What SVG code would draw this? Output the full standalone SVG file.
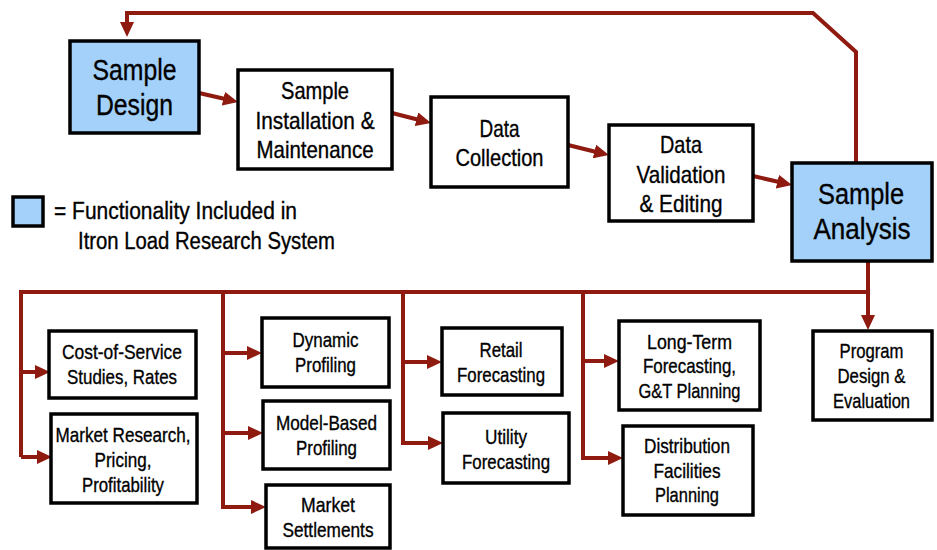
<svg xmlns="http://www.w3.org/2000/svg" width="937" height="550" viewBox="0 0 937 550">
<style>
.box{fill:#fff;stroke:#000;stroke-width:3.5}
.blue{fill:#a3d1f9}
text{font-family:"Liberation Sans",Arial,sans-serif;fill:#000;stroke:#000;stroke-width:0.35}
.t{text-anchor:middle}
.big{font-size:30px}
.med{font-size:24px}
.sm{font-size:21px}
.leg{font-size:23px}
.c{fill:none;stroke:#8f1a0f;stroke-width:4;stroke-linejoin:miter}
</style>
<defs>
<marker id="ah" markerUnits="userSpaceOnUse" markerWidth="15" markerHeight="14" viewBox="0 0 15 14" refX="3" refY="7" orient="auto">
<path d="M0,0 L15,7 L0,14 z" fill="#8f1a0f"/>
</marker>
</defs>
<g id="connectors">
<path class="c" d="M856,163 V52 L813,13 H127 V25" marker-end="url(#ah)"/>
<path class="c" d="M199,93 L226.3,99.3" marker-end="url(#ah)"/>
<path class="c" d="M392,113 L419.4,120" marker-end="url(#ah)"/>
<path class="c" d="M568,145 L597.3,152.2" marker-end="url(#ah)"/>
<path class="c" d="M753,176 L780.3,182.3" marker-end="url(#ah)"/>
<path class="c" d="M868,261 V318" marker-end="url(#ah)"/>
<path class="c" d="M21,457 V292 H868"/>
<path class="c" d="M21,372 H38" marker-end="url(#ah)"/>
<path class="c" d="M21,457 H40" marker-end="url(#ah)"/>
<path class="c" d="M223,292 V507"/>
<path class="c" d="M223,353 H250" marker-end="url(#ah)"/>
<path class="c" d="M223,433 H251" marker-end="url(#ah)"/>
<path class="c" d="M221,507 H254" marker-end="url(#ah)"/>
<path class="c" d="M403,292 V443"/>
<path class="c" d="M403,362 H430" marker-end="url(#ah)"/>
<path class="c" d="M401,443 H431" marker-end="url(#ah)"/>
<path class="c" d="M583,292 V458"/>
<path class="c" d="M583,361 H607" marker-end="url(#ah)"/>
<path class="c" d="M581,458 H611" marker-end="url(#ah)"/>
</g>
<g id="sample-design">
<rect class="box blue" x="70" y="41" width="129" height="92"/>
<text class="t big" x="134.5" y="80" textLength="84" lengthAdjust="spacingAndGlyphs">Sample</text>
<text class="t big" x="134.5" y="115" textLength="77" lengthAdjust="spacingAndGlyphs">Design</text>
</g>
<g id="sample-installation">
<rect class="box" x="238" y="70" width="154" height="99"/>
<text class="t med" x="315" y="99" textLength="68" lengthAdjust="spacingAndGlyphs">Sample</text>
<text class="t med" x="315" y="129" textLength="119" lengthAdjust="spacingAndGlyphs">Installation &amp;</text>
<text class="t med" x="315" y="158" textLength="117" lengthAdjust="spacingAndGlyphs">Maintenance</text>
</g>
<g id="data-collection">
<rect class="box" x="431" y="97" width="137" height="90"/>
<text class="t med" x="499.5" y="137" textLength="40" lengthAdjust="spacingAndGlyphs">Data</text>
<text class="t med" x="499.5" y="166" textLength="88" lengthAdjust="spacingAndGlyphs">Collection</text>
</g>
<g id="data-validation">
<rect class="box" x="609" y="125" width="144" height="96"/>
<text class="t med" x="681" y="153" textLength="42" lengthAdjust="spacingAndGlyphs">Data</text>
<text class="t med" x="681" y="183" textLength="89" lengthAdjust="spacingAndGlyphs">Validation</text>
<text class="t med" x="681" y="212" textLength="83" lengthAdjust="spacingAndGlyphs">&amp; Editing</text>
</g>
<g id="sample-analysis">
<rect class="box blue" x="792" y="163" width="140" height="98"/>
<text class="t big" x="861" y="204" textLength="86" lengthAdjust="spacingAndGlyphs">Sample</text>
<text class="t big" x="862" y="239" textLength="97" lengthAdjust="spacingAndGlyphs">Analysis</text>
</g>
<g id="legend">
<rect class="box blue" x="13" y="197" width="30" height="29"/>
<text class="leg" x="54" y="219" textLength="243" lengthAdjust="spacingAndGlyphs">= Functionality Included in</text>
<text class="leg" x="78" y="249" textLength="257" lengthAdjust="spacingAndGlyphs">Itron Load Research System</text>
</g>
<g id="cost-of-service">
<rect class="box" x="49" y="331" width="147" height="67"/>
<text class="t sm" x="122" y="359" textLength="120" lengthAdjust="spacingAndGlyphs">Cost-of-Service</text>
<text class="t sm" x="122" y="384" textLength="110" lengthAdjust="spacingAndGlyphs">Studies, Rates</text>
</g>
<g id="market-research">
<rect class="box" x="51" y="414" width="146" height="89"/>
<text class="t sm" x="123" y="442" textLength="135" lengthAdjust="spacingAndGlyphs">Market Research,</text>
<text class="t sm" x="123" y="467" textLength="57" lengthAdjust="spacingAndGlyphs">Pricing,</text>
<text class="t sm" x="123" y="492" textLength="82" lengthAdjust="spacingAndGlyphs">Profitability</text>
</g>
<g id="dynamic-profiling">
<rect class="box" x="262" y="318" width="127" height="69"/>
<text class="t sm" x="325.5" y="347" textLength="66" lengthAdjust="spacingAndGlyphs">Dynamic</text>
<text class="t sm" x="325.5" y="372" textLength="61" lengthAdjust="spacingAndGlyphs">Profiling</text>
</g>
<g id="model-based-profiling">
<rect class="box" x="263" y="401" width="127" height="68"/>
<text class="t sm" x="326.5" y="430" textLength="101" lengthAdjust="spacingAndGlyphs">Model-Based</text>
<text class="t sm" x="326.5" y="455" textLength="61" lengthAdjust="spacingAndGlyphs">Profiling</text>
</g>
<g id="market-settlements">
<rect class="box" x="266" y="485" width="124" height="63"/>
<text class="t sm" x="328" y="512" textLength="54" lengthAdjust="spacingAndGlyphs">Market</text>
<text class="t sm" x="328" y="537" textLength="91" lengthAdjust="spacingAndGlyphs">Settlements</text>
</g>
<g id="retail-forecasting">
<rect class="box" x="442" y="328" width="120" height="67"/>
<text class="t sm" x="501" y="357" textLength="43" lengthAdjust="spacingAndGlyphs">Retail</text>
<text class="t sm" x="501" y="382" textLength="88" lengthAdjust="spacingAndGlyphs">Forecasting</text>
</g>
<g id="utility-forecasting">
<rect class="box" x="443" y="413" width="126" height="70"/>
<text class="t sm" x="506" y="444" textLength="42" lengthAdjust="spacingAndGlyphs">Utility</text>
<text class="t sm" x="506" y="469" textLength="88" lengthAdjust="spacingAndGlyphs">Forecasting</text>
</g>
<g id="long-term-forecasting">
<rect class="box" x="619" y="321" width="141" height="89"/>
<text class="t sm" x="689.5" y="349" textLength="85" lengthAdjust="spacingAndGlyphs">Long-Term</text>
<text class="t sm" x="689.5" y="373" textLength="93" lengthAdjust="spacingAndGlyphs">Forecasting,</text>
<text class="t sm" x="689.5" y="398" textLength="102" lengthAdjust="spacingAndGlyphs">G&amp;T Planning</text>
</g>
<g id="distribution-planning">
<rect class="box" x="623" y="426" width="130" height="89"/>
<text class="t sm" x="687" y="453" textLength="86" lengthAdjust="spacingAndGlyphs">Distribution</text>
<text class="t sm" x="687" y="478" textLength="67" lengthAdjust="spacingAndGlyphs">Facilities</text>
<text class="t sm" x="687" y="502" textLength="64" lengthAdjust="spacingAndGlyphs">Planning</text>
</g>
<g id="program-design">
<rect class="box" x="813" y="331" width="119" height="89"/>
<text class="t sm" x="871.5" y="358" textLength="64" lengthAdjust="spacingAndGlyphs">Program</text>
<text class="t sm" x="871.5" y="383" textLength="68" lengthAdjust="spacingAndGlyphs">Design &amp;</text>
<text class="t sm" x="871.5" y="408" textLength="77" lengthAdjust="spacingAndGlyphs">Evaluation</text>
</g>
</svg>
